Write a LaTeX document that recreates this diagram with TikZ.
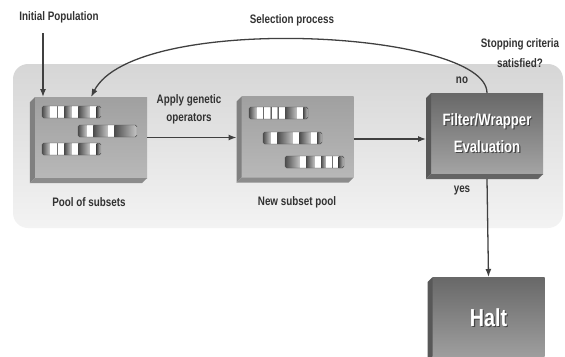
\documentclass[tikz,border=0pt]{standalone}
\usepackage{fontspec}
\setmainfont{Liberation Sans}[FakeStretch=0.8]
\usetikzlibrary{positioning,calc,arrows.meta}
\definecolor{RegionTop}{RGB}{214,214,214}
\definecolor{RegionBottom}{RGB}{243,243,243}
\definecolor{PoolTop}{RGB}{160,160,160}
\definecolor{PoolBottom}{RGB}{184,184,184}
\definecolor{PoolSide}{RGB}{128,128,128}
\definecolor{PoolBase}{RGB}{140,140,140}
\definecolor{EvalTop}{RGB}{104,104,104}
\definecolor{EvalBottom}{RGB}{164,164,164}
\definecolor{EvalSide}{RGB}{88,88,88}
\definecolor{EvalBase}{RGB}{100,100,100}
\definecolor{ShadowGray}{RGB}{70,70,70}
\definecolor{LabelGray}{RGB}{50,50,50}

\newcommand{\shadowed}[1]{\leavevmode\rlap{\kern1pt\raisebox{-1pt}{\textcolor{ShadowGray}{#1}}}\textcolor{white}{#1}}

% one chromosome: left, right, top, white cells a/b
\newcommand{\genebar}[4]{%
  \begin{scope}
    \clip[rounded corners=1.5pt] (#1,#3) rectangle (#2,#3+12);
    \foreach \wa/\wb [remember=\wb as \wprev (initially #1)] in {#4,#2/#2} {
      \shade[genecell] (\wprev,#3) rectangle (\wa,#3+12);
      \fill[white] (\wa,#3) rectangle (\wb,#3+12);
    }
  \end{scope}
  \draw[black!70, rounded corners=1.5pt] (#1,#3) rectangle (#2,#3+12);
}

% side and base of a raised box
\newcommand{\bevel}[3]{%
  \fill[#2] (#1.north west) -- ++(-5,5) -- ($(#1.south west)+(-5,5)$) -- (#1.south west) -- cycle;
  \fill[#3] (#1.south west) -- ++(-5,5) -- ($(#1.south east)+(-5,5)$) -- (#1.south east) -- cycle;
}

\begin{document}
\begin{tikzpicture}[
    x=0.3mm, y=-0.3mm,
    font=\fontsize{10.5}{12}\selectfont\bfseries,
    lbl/.style={
        text=LabelGray,
        align=center,
        inner sep=0pt
    },
    face/.style={
        inner sep=0pt,
        outer sep=0pt,
        minimum width=33.6mm,
        minimum height=24.3mm
    },
    poolface/.style={
        face,
        top color=PoolTop,
        bottom color=PoolBottom
    },
    evalface/.style={
        face,
        top color=EvalTop,
        bottom color=EvalBottom,
        align=center
    },
    genecell/.style={
        left color=black!70,
        right color=black!22
    },
    arrow/.style={
        -{Latex[length=2.4mm,width=1.8mm]},
        line width=1.1pt,
        draw=black!75
    }
]
\useasboundingbox (0,0) rectangle (565,356);
\clip (0,0) rectangle (565,356);

% shaded region
\shade[top color=RegionTop, bottom color=RegionBottom, rounded corners=4.5mm]
    (13,64) rectangle (563,228);

% =========================
% boxes
% =========================
\node[poolface] (pool) at (91,137.5) {};
\bevel{pool}{PoolSide}{PoolBase}

\node[poolface] (newpool) at (297.5,137) {};
\bevel{newpool}{PoolSide}{PoolBase}

\node[evalface, font=\fontsize{14}{23}\selectfont\bfseries] (eval) at (487,133.5)
    {\shadowed{Filter/Wrapper}\\\shadowed{Evaluation}};
\bevel{eval}{EvalSide}{EvalBase}

\node[evalface, minimum height=26.4mm, font=\fontsize{21}{24}\selectfont\bfseries] (halt) at (488.5,321)
    {\raisebox{2mm}{\shadowed{Halt}}};
\bevel{halt}{EvalSide}{EvalBase}

% chromosomes
\genebar{42}{101}{106}{50/56.7,57.7/64.3,71.7/78.3,90/96.7}
\genebar{78}{137}{125}{86.7/93.3,108.3/114.3}
\genebar{42}{101}{143}{50/56.7,57.7/64.3,71.7/78.3,90/96.7}

\genebar{249}{308}{107}{256.7/263.3,264.3/270.7,272.3/277.7,279.3/285,297.3/303.3}
\genebar{263}{322}{132}{271/277.3,293.3/299.3,311/317.3}
\genebar{285}{344}{156}{300/306,315/321,326/331.7,332.7/338.7}

% =========================
% labels
% =========================
\node[lbl] (initpop) at (59,17) {Initial Population};
\node[lbl] (selproc) at (292,20) {Selection process};
\node[lbl, font=\fontsize{10.5}{17}\selectfont\bfseries] (stopcrit) at (520,53) {Stopping criteria\\satisfied?};
\node[lbl] (nolbl) at (462,80) {no};
\node[lbl] (yeslbl) at (462,190) {yes};
\node[lbl, font=\fontsize{10.5}{15.5}\selectfont\bfseries] (apply) at (189,109) {Apply genetic\\operators};
\node[lbl] (poollbl) at (89,202) {Pool of subsets};
\node[lbl] (newlbl) at (297,202) {New subset pool};

% =========================
% connectors
% =========================
\coordinate (popin) at (43,33);
\draw[arrow] (popin) -- (popin |- pool.north);
\draw[arrow] (eval.north) .. controls (487,30) and (135,12) .. (pool.north);
\draw[arrow] (pool.east) -- ([xshift=-1.5mm]pool.east -| newpool.west);
\draw[arrow] ([yshift=-0.6mm]newpool.east) -- ([xshift=-1.5mm,yshift=-0.6mm]newpool.east -| eval.west);
\draw[arrow] ([yshift=-1.5mm]eval.south) -- (halt.north);

\end{tikzpicture}
\end{document}
